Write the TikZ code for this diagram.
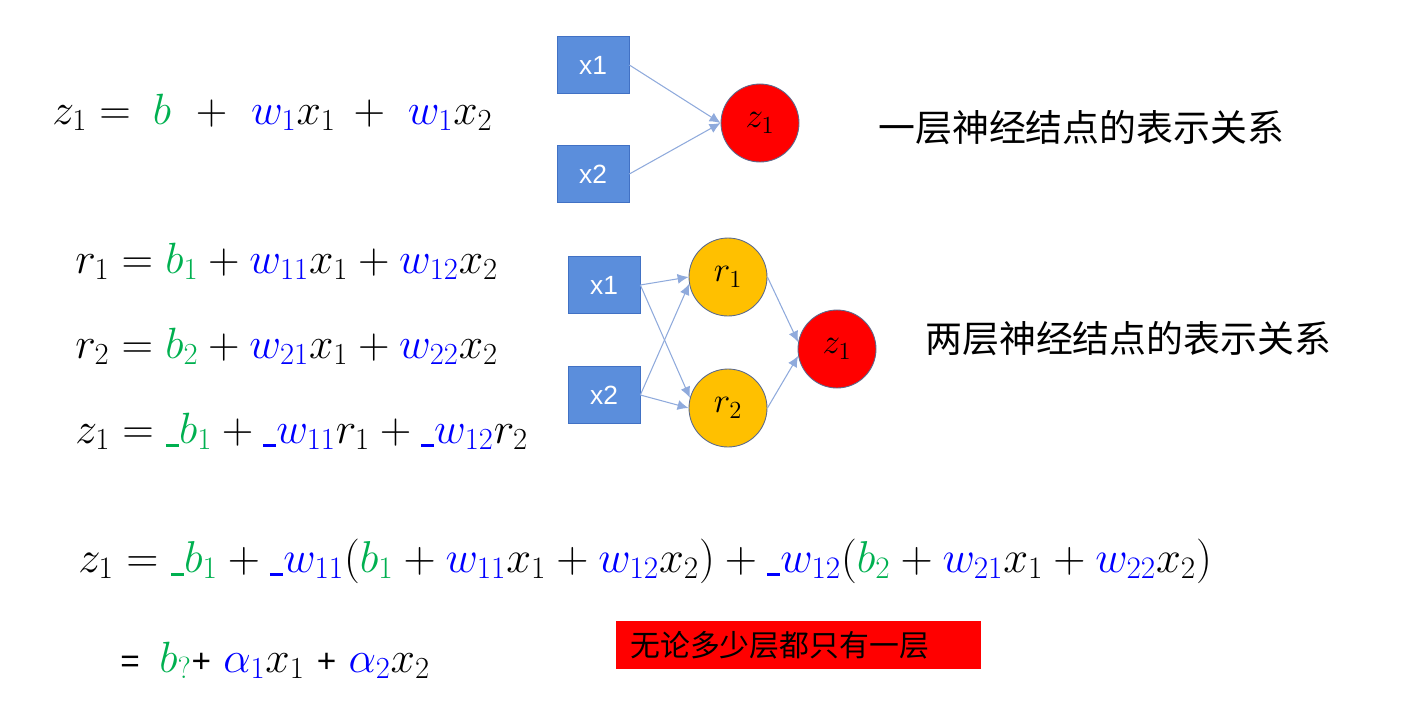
\RequirePackage{fix-cm}
\documentclass[tikz,border=0pt]{standalone}
\usepackage{fontspec}
\newfontfamily\cjk{Noto Sans CJK SC}
\newfontfamily\arial{Liberation Sans}
\usetikzlibrary{arrows.meta}

\definecolor{boxblue}{RGB}{91,142,220}
\definecolor{boxedge}{RGB}{65,113,196}
\definecolor{linkblue}{RGB}{143,170,220}
\definecolor{cellorange}{RGB}{255,192,0}
\definecolor{celledge}{RGB}{90,105,140}
\definecolor{eqgreen}{RGB}{0,176,80}
\definecolor{eqblue}{RGB}{0,0,255}

\newcommand{\gb}[1]{\textcolor{eqgreen}{#1}}
\newcommand{\bw}[1]{\textcolor{eqblue}{#1}}
\newcommand{\ubar}{\rule[-0.08em]{0.3em}{0.06em}}
\newcommand{\sfop}[1]{\mbox{\arial\fontsize{19}{22}\selectfont #1}}

\tikzset{
  inbox/.style={draw=boxedge, fill=boxblue, text=white, minimum width=1.44cm,
    minimum height=1.14cm, inner sep=0pt, font=\arial\fontsize{15}{17}\selectfont},
  cell/.style={circle, draw=celledge, line width=0.5pt, minimum size=1.56cm,
    inner sep=0pt, font=\fontsize{20}{22}\selectfont},
  link/.style={draw=linkblue, line width=0.6pt, -{Latex[length=2.2mm,width=2mm]}},
  eq/.style={anchor=base west, inner sep=0pt, font=\fontsize{24.9}{30}\selectfont},
  title/.style={anchor=west, inner sep=0pt, font=\cjk\fontsize{21}{25}\selectfont},
}

\begin{document}
\begin{tikzpicture}[x=0.02cm, y=-0.02cm]
  \useasboundingbox (0,0) rectangle (1403,711);

  % one layer
  \node[eq] (eqa) at (52,124)
    {$z_1 =\hspace{0.2cm} \gb{b} \hspace{0.3cm}+\hspace{0.28cm} \bw{w_1}x_1
      \hspace{0.16cm}+\hspace{0.26cm} \bw{w_1}x_2$};
  \node[inbox] (a1) at (593,65) {x1};
  \node[inbox] (a2) at (593,174) {x2};
  \node[cell, fill=red] (az) at (760,123) {$z_1$};
  \draw[link] (a1.east) -- (az.west);
  \draw[link] (a2.east) -- (az.west);
  \node[title] (ta) at (878,128) {一层神经结点的表示关系};

  % two layers
  \node[eq] (eqr1) at (75,273)
    {$r_1 = \gb{b_1} + \bw{w_{11}}x_1 + \bw{w_{12}}x_2$};
  \node[eq] (eqr2) at (75,358)
    {$r_2 = \gb{b_2} + \bw{w_{21}}x_1 + \bw{w_{22}}x_2$};
  \node[eq] (eqz1) at (75,443)
    {$z_1 = \gb{\ubar b_1} + \bw{\ubar w_{11}}r_1 + \bw{\ubar w_{12}}r_2$};
  \node[inbox] (b1) at (604,285) {x1};
  \node[inbox] (b2) at (604,395) {x2};
  \node[cell, fill=cellorange] (r1) at (728,277) {$r_1$};
  \node[cell, fill=cellorange] (r2) at (728,408) {$r_2$};
  \node[cell, fill=red] (bz) at (837,349) {$z_1$};
  \draw[link] (b1.east) -- (r1.west);
  \draw[link] (b1.east) -- (r2.165);
  \draw[link] (b2.east) -- (r1.190);
  \draw[link] (b2.east) -- (r2.west);
  \draw[link] (r1.east) -- (bz.170);
  \draw[link] (r2.east) -- (bz.190);
  \node[title] (tb) at (925,339) {两层神经结点的表示关系};

  % collapse
  \node[eq, font=\fontsize{25.4}{30}\selectfont] (eqall) at (78,572)
    {$z_1 = \gb{\ubar b_1} + \bw{\ubar w_{11}}(\gb{b_1} + \bw{w_{11}}x_1 + \bw{w_{12}}x_2)
      + \bw{\ubar w_{12}}(\gb{b_2} + \bw{w_{21}}x_1 + \bw{w_{22}}x_2)$};
  \node[eq] (eqsum) at (120,672)
    {$\sfop{=}\;\, \gb{b_?}\sfop{+}\; \bw{\alpha_1}x_1
      \;\sfop{+}\; \bw{\alpha_2}x_2$};
  \node[anchor=north west, fill=red, text width=6.74cm, minimum height=0.96cm,
    inner xsep=0.28cm, inner ysep=0pt, font=\cjk\fontsize{17}{20}\selectfont]
    (note) at (616,621) {无论多少层都只有一层};
\end{tikzpicture}
\end{document}
